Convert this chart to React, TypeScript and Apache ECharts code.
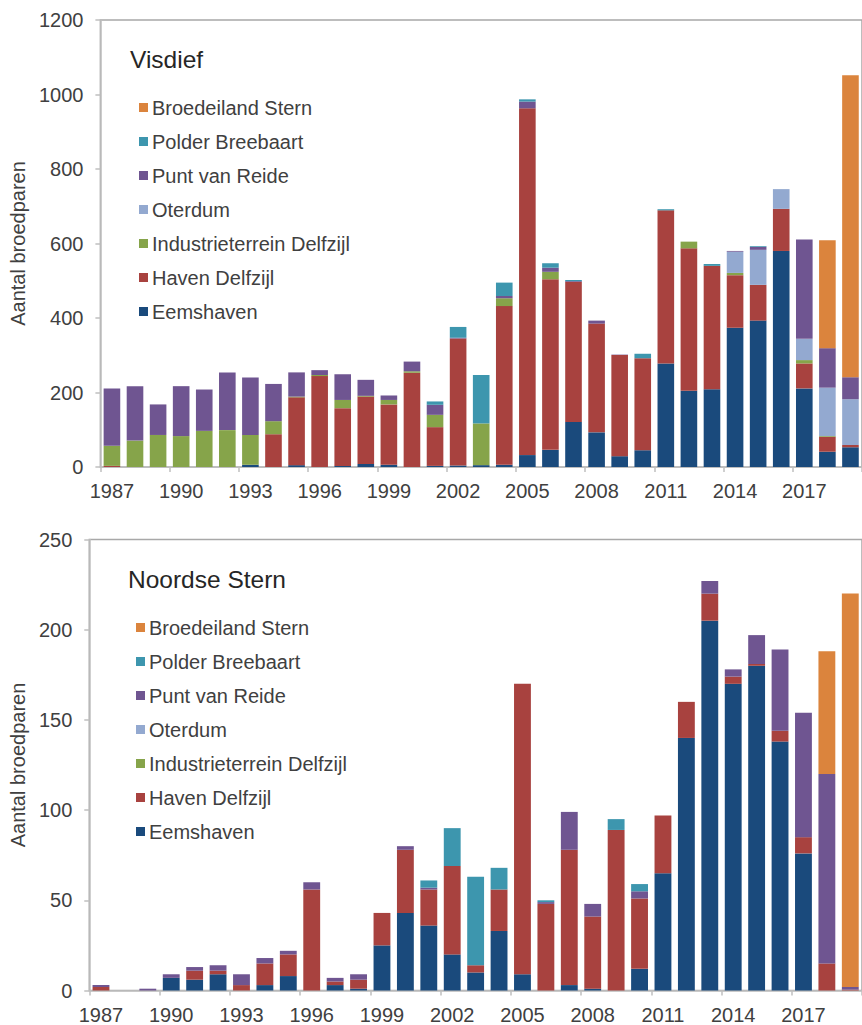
import React, { useEffect, useRef } from "react";
import * as echarts from "echarts";

const years = [
  "1987", "1988", "1989", "1990", "1991", "1992", "1993", "1994", "1995", "1996", "1997",
  "1998", "1999", "2000", "2001", "2002", "2003", "2004", "2005", "2006", "2007", "2008",
  "2009", "2010", "2011", "2012", "2013", "2014", "2015", "2016", "2017", "2018", "2019",
];

const siteNames = [
  "Eemshaven",
  "Haven Delfzijl",
  "Industrieterrein Delfzijl",
  "Oterdum",
  "Punt van Reide",
  "Polder Breebaart",
  "Broedeiland Stern",
];
const legendOrder = [
  "Broedeiland Stern",
  "Polder Breebaart",
  "Punt van Reide",
  "Oterdum",
  "Industrieterrein Delfzijl",
  "Haven Delfzijl",
  "Eemshaven",
];
const siteColors = ["#1A4A7C", "#A8423F", "#86A44A", "#93A9D0", "#6F5591", "#3D96AE", "#DB843D"];

const yTicksVisdief = [0, 1200, 200];
const yTicksNoordse = [0, 250, 50];

// Visdief (1987 ... 2019)
const visEemshaven = [0, 0, 0, 0, 0, 0, 6, 0, 5, 0, 3, 8, 6, 0, 3, 4, 5, 6, 32, 46, 121, 93, 29, 45, 278, 205, 209, 374, 393, 580, 211, 41, 53];
const visHaven = [3, 0, 0, 0, 0, 0, 0, 88, 182, 244, 155, 181, 162, 253, 104, 341, 0, 426, 931, 458, 376, 292, 272, 247, 411, 382, 331, 141, 96, 113, 67, 40, 6];
const visIndustrie = [54, 71, 86, 83, 97, 99, 80, 35, 2, 3, 22, 2, 12, 4, 33, 0, 112, 21, 0, 20, 0, 0, 0, 0, 0, 18, 0, 6, 0, 0, 9, 2, 0];
const visOterdum = [0, 0, 0, 0, 0, 0, 0, 0, 0, 0, 0, 0, 0, 0, 0, 0, 0, 0, 0, 0, 0, 0, 0, 0, 0, 0, 0, 57, 94, 53, 57, 130, 123];
const visPunt = [154, 146, 82, 134, 111, 155, 154, 100, 65, 13, 69, 43, 12, 26, 27, 2, 0, 6, 18, 11, 2, 8, 1, 0, 0, 0, 0, 2, 8, 0, 267, 106, 59];
const visPolder = [0, 0, 0, 0, 0, 0, 0, 0, 0, 0, 0, 0, 0, 0, 9, 29, 130, 36, 6, 12, 3, 0, 0, 12, 3, 0, 5, 0, 2, 0, 0, 0, 0];
const visBroed = [0, 0, 0, 0, 0, 0, 0, 0, 0, 0, 0, 0, 0, 0, 0, 0, 0, 0, 0, 0, 0, 0, 0, 0, 0, 0, 0, 0, 0, 0, 0, 290, 811];

// Noordse Stern (1987 ... 2019)
const nsEemshaven = [0, 0, 0, 7, 6, 9, 0, 3, 8, 0, 3, 1, 25, 43, 36, 20, 10, 33, 9, 0, 3, 1, 0, 12, 65, 140, 205, 170, 180, 138, 76, 0, 0];
const nsHaven = [2, 0, 0, 0, 5, 2, 3, 12, 12, 56, 2, 5, 18, 35, 20, 49, 4, 23, 161, 48, 75, 40, 89, 39, 32, 20, 15, 4, 1, 6, 9, 15, 0.5];
const nsIndustrie = [0, 0, 0, 0, 0, 0, 0, 0, 0, 0, 0, 0, 0, 0, 0, 0, 0, 0, 0, 0, 0, 0, 0, 0, 0, 0, 0, 0, 0, 0, 0, 0, 0];
const nsOterdum = [0, 0, 0, 0, 0, 0, 0, 0, 0, 0, 0, 0, 0, 0, 0, 0, 0, 0, 0, 0, 0, 0, 0, 0, 0, 0, 0, 0, 0, 0, 0, 0, 0];
const nsPunt = [1, 0, 1, 2, 2, 3, 6, 3, 2, 4, 2, 3, 0, 2, 1, 0, 0, 0, 0, 1, 21, 7, 0, 4, 0, 0, 7, 4, 16, 45, 69, 105, 1.5];
const nsPolder = [0, 0, 0, 0, 0, 0, 0, 0, 0, 0, 0, 0, 0, 0, 4, 21, 49, 12, 0, 1, 0, 0, 6, 4, 0, 0, 0, 0, 0, 0, 0, 0, 0];
const nsBroed = [0, 0, 0, 0, 0, 0, 0, 0, 0, 0, 0, 0, 0, 0, 0, 0, 0, 0, 0, 0, 0, 0, 0, 0, 0, 0, 0, 0, 0, 0, 0, 68, 218];

const visdiefSeries = [visEemshaven, visHaven, visIndustrie, visOterdum, visPunt, visPolder, visBroed];
const noordseSeries = [nsEemshaven, nsHaven, nsIndustrie, nsOterdum, nsPunt, nsPolder, nsBroed];

const FONT = "'Liberation Sans', Arial, sans-serif";
const TEXT = "#404040";
const FS = 20;

function xAxisFor(gridIndex: number) {
  return {
    type: "category",
    gridIndex,
    data: years,
    boundaryGap: true,
    axisLine: { show: true, lineStyle: { color: "#BFBFBF", width: 1.5 } },
    axisTick: { show: true, interval: 2, length: 5, lineStyle: { color: "#BFBFBF", width: 1.5 } },
    axisLabel: { interval: 2, margin: 14, fontSize: FS, color: TEXT, fontFamily: FONT },
    splitLine: { show: false },
  };
}

function yAxisFor(gridIndex: number, ticks: number[], nameGap: number) {
  return {
    type: "value",
    gridIndex,
    min: ticks[0],
    max: ticks[1],
    interval: ticks[2],
    name: "Aantal broedparen",
    nameLocation: "middle",
    nameGap,
    nameTextStyle: { fontSize: FS, color: TEXT, fontFamily: FONT },
    axisLine: { show: true, lineStyle: { color: "#BFBFBF", width: 1.5 } },
    axisTick: { show: true, length: 5, lineStyle: { color: "#BFBFBF", width: 1.5 } },
    axisLabel: { margin: 17, fontSize: FS, color: TEXT, fontFamily: FONT, formatter: (v: number) => String(v) },
    splitLine: { show: false },
  };
}

function legendFor(left: number, top: number) {
  return {
    orient: "vertical",
    left,
    top,
    padding: 0,
    itemWidth: 9,
    itemHeight: 9,
    itemGap: 14,
    icon: "rect",
    selectedMode: false,
    data: legendOrder,
    textStyle: { fontSize: FS, color: TEXT, fontFamily: FONT, padding: [0, 0, 0, -1] },
  };
}

export default function App() {
  const ref = useRef<HTMLDivElement>(null);

  useEffect(() => {
    if (!ref.current) return;
    const chart = echarts.init(ref.current, null, { renderer: "svg" });

    const series: any[] = [];
    [visdiefSeries, noordseSeries].forEach((group, gi) => {
      group.forEach((values, si) => {
        series.push({
          type: "bar",
          name: siteNames[si],
          xAxisIndex: gi,
          yAxisIndex: gi,
          stack: gi === 0 ? "visdief" : "noordse",
          data: values,
          barCategoryGap: "28%",
          itemStyle: { color: siteColors[si] },
          emphasis: { disabled: true },
        });
      });
    });

    chart.setOption({
      animation: false,
      backgroundColor: "#ffffff",
      textStyle: { fontFamily: FONT },
      title: [
        { text: "Visdief", left: 130, top: 47, padding: 0, textStyle: { fontSize: 24.5, fontWeight: "normal", color: "#262626", fontFamily: FONT } },
        { text: "Noordse Stern", left: 128, top: 567, padding: 0, textStyle: { fontSize: 24.5, fontWeight: "normal", color: "#262626", fontFamily: FONT } },
      ],
      legend: [legendFor(139, 97.5), legendFor(136, 617.5)],
      grid: [
        { left: 94.5, top: 20, width: 778, height: 447, show: true, borderColor: "#A8A8A8", borderWidth: 1.5, backgroundColor: "transparent" },
        { left: 84, top: 539.5, width: 789, height: 451, show: true, borderColor: "#A8A8A8", borderWidth: 1.5, backgroundColor: "transparent" },
      ],
      xAxis: [xAxisFor(0), xAxisFor(1)],
      yAxis: [yAxisFor(0, yTicksVisdief, 70), yAxisFor(1, yTicksNoordse, 59)],
      series,
    });

    return () => chart.dispose();
  }, []);

  return (
    <div
      ref={ref}
      style={{ position: "fixed", left: 0, top: 0, width: 862, height: 1025, background: "#fff" }}
    />
  );
}
